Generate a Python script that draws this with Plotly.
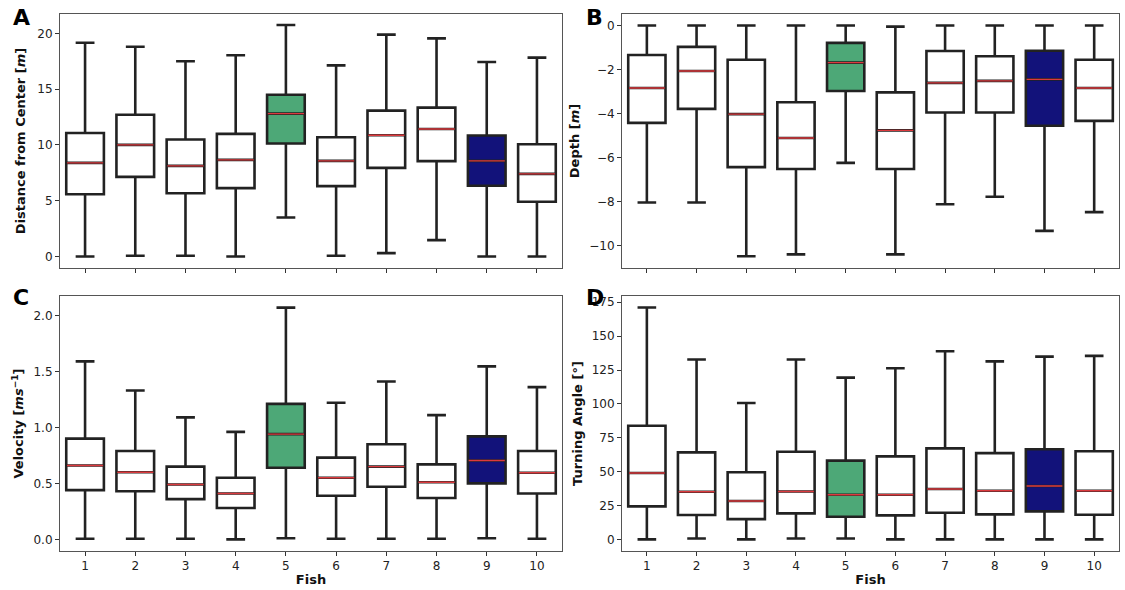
import plotly.graph_objects as go

fish = [1, 2, 3, 4, 5, 6, 7, 8, 9, 10]

# A: distance from centre [m]
dist_low = [0.0, 0.06, 0.06, 0.0, 3.49, 0.06, 0.3, 1.46, 0.0, 0.0]
dist_q1 = [5.58, 7.13, 5.67, 6.12, 10.12, 6.3, 7.94, 8.54, 6.33, 4.9]
dist_med = [8.39, 10.0, 8.12, 8.66, 12.8, 8.57, 10.87, 11.43, 8.57, 7.4]
dist_q3 = [11.07, 12.7, 10.48, 10.99, 14.5, 10.69, 13.07, 13.34, 10.84, 10.06]
dist_high = [19.16, 18.8, 17.5, 18.03, 20.75, 17.13, 19.88, 19.55, 17.43, 17.82]

# B: depth [m]
depth_low = [-8.05, -8.05, -10.5, -10.41, -6.25, -10.41, -8.13, -7.79, -9.34, -8.49]
depth_q1 = [-4.43, -3.79, -6.44, -6.53, -2.98, -6.53, -3.96, -3.96, -4.56, -4.34]
depth_med = [-2.84, -2.07, -4.03, -5.12, -1.69, -4.77, -2.61, -2.52, -2.45, -2.84]
depth_q3 = [-1.34, -0.97, -1.56, -3.49, -0.79, -3.04, -1.16, -1.4, -1.15, -1.56]
depth_high = [0.0, 0.0, 0.0, 0.0, 0.0, -0.05, 0.0, 0.0, 0.0, 0.0]

# C: velocity [m/s]
vel_low = [0.006, 0.006, 0.006, 0.0, 0.01, 0.006, 0.006, 0.006, 0.01, 0.006]
vel_q1 = [0.44, 0.43, 0.36, 0.28, 0.64, 0.39, 0.47, 0.37, 0.50, 0.41]
vel_med = [0.66, 0.60, 0.49, 0.41, 0.94, 0.55, 0.65, 0.51, 0.705, 0.595]
vel_q3 = [0.90, 0.79, 0.65, 0.55, 1.21, 0.73, 0.85, 0.67, 0.92, 0.79]
vel_high = [1.59, 1.33, 1.09, 0.96, 2.07, 1.22, 1.41, 1.11, 1.545, 1.36]

# D: turning angle [deg]
turn_low = [0.0, 0.7, 0.0, 0.7, 0.7, 0.0, 0.0, 0.0, 0.0, 0.0]
turn_q1 = [24.4, 18.0, 15.0, 19.2, 16.7, 17.7, 19.7, 18.5, 20.7, 18.2]
turn_med = [49.0, 35.2, 28.3, 35.4, 33.0, 33.0, 37.2, 35.9, 39.4, 35.9]
turn_q3 = [83.9, 64.2, 49.5, 64.7, 58.1, 61.3, 67.2, 63.7, 66.5, 65.0]
turn_high = [171.1, 132.7, 100.7, 132.7, 119.4, 126.3, 138.8, 131.4, 134.9, 135.4]

fills = {5: "#4da877", 9: "#12127a"}

panels = [
    ("x", "y", dist_low, dist_q1, dist_med, dist_q3, dist_high),
    ("x2", "y2", depth_low, depth_q1, depth_med, depth_q3, depth_high),
    ("x3", "y3", vel_low, vel_q1, vel_med, vel_q3, vel_high),
    ("x4", "y4", turn_low, turn_q1, turn_med, turn_q3, turn_high),
]

fig = go.Figure()

for xa, ya, lo, q1, med, q3, hi in panels:
    for i, f in enumerate(fish):
        fig.add_trace(go.Box(
            x=[f], q1=[q1[i]], median=[med[i]], q3=[q3[i]],
            lowerfence=[lo[i]], upperfence=[hi[i]],
            width=0.75, whiskerwidth=0.5,
            fillcolor=fills.get(f, "white"),
            line=dict(color="#222222", width=2.6),
            xaxis=xa, yaxis=ya, hoverinfo="skip", showlegend=False,
        ))
        # red median line drawn as a flat box
        fig.add_trace(go.Box(
            x=[f], q1=[med[i]], median=[med[i]], q3=[med[i]],
            lowerfence=[med[i]], upperfence=[med[i]],
            width=0.72, whiskerwidth=0,
            fillcolor="rgba(0,0,0,0)",
            line=dict(color="#dc3a3e", width=1.4),
            xaxis=xa, yaxis=ya, hoverinfo="skip", showlegend=False,
        ))

font = dict(family="DejaVu Sans", size=12, color="#222222")
axis_common = dict(
    showline=True, linecolor="#555555", linewidth=1, mirror=True,
    ticks="outside", ticklen=4, tickcolor="#333333",
    showgrid=False, zeroline=False, tickfont=font,
)
xl = [0.0533, 0.4996]
xr = [0.5529, 0.9947]
yt = [0.5458, 0.9763]
yb = [0.0661, 0.4983]
title_font = dict(family="DejaVu Sans", size=13, color="#111111")

fig.update_layout(
    width=1125, height=590,
    margin=dict(l=0, r=0, t=0, b=0),
    plot_bgcolor="white", paper_bgcolor="white",
    boxmode="overlay",
    xaxis=dict(domain=xl, anchor="y", range=[0.5, 10.5], tickvals=fish,
               showticklabels=False, **axis_common),
    yaxis=dict(domain=yt, anchor="x", range=[-1.035, 21.735],
               tickvals=[0, 5, 10, 15, 20],
               title=dict(text="<b>Distance from Center [<i>m</i>]</b>",
                          font=title_font, standoff=8),
               **axis_common),
    xaxis2=dict(domain=xr, anchor="y2", range=[0.5, 10.5], tickvals=fish,
                showticklabels=False, **axis_common),
    yaxis2=dict(domain=yt, anchor="x2", range=[-11.03, 0.525],
                tickvals=[-10, -8, -6, -4, -2, 0],
                title=dict(text="<b>Depth [<i>m</i>]</b>",
                           font=title_font, standoff=6),
                **axis_common),
    xaxis3=dict(domain=xl, anchor="y3", range=[0.5, 10.5], tickvals=fish,
                title=dict(text="<b>Fish</b>", font=title_font, standoff=2),
                **axis_common),
    yaxis3=dict(domain=yb, anchor="x3", range=[-0.1035, 2.1735],
                tickvals=[0, 0.5, 1.0, 1.5, 2.0], tickformat=".1f",
                title=dict(text="<b>Velocity [<i>ms</i><sup>−1</sup>]</b>",
                           font=title_font, standoff=6),
                **axis_common),
    xaxis4=dict(domain=xr, anchor="y4", range=[0.5, 10.5], tickvals=fish,
                title=dict(text="<b>Fish</b>", font=title_font, standoff=2),
                **axis_common),
    yaxis4=dict(domain=yb, anchor="x4", range=[-8.55, 179.6],
                tickvals=[0, 25, 50, 75, 100, 125, 150, 175],
                title=dict(text="<b>Turning Angle [°]</b>",
                           font=title_font, standoff=6),
                **axis_common),
)

letters = [("A", 0.010, 0.995), ("B", 0.519, 0.995),
           ("C", 0.010, 0.520), ("D", 0.519, 0.520)]
for txt, lx, ly in letters:
    fig.add_annotation(text="<b>" + txt + "</b>", x=lx, y=ly,
                       xref="paper", yref="paper", xanchor="left", yanchor="top",
                       showarrow=False,
                       font=dict(family="DejaVu Sans", size=22, color="black"))

# drop the page's default body margin so the figure fills the window
fig.write_html("out.html",
               config={"displayModeBar": False, "staticPlot": True},
               post_script="document.body.style.margin='0';"
                           "document.body.style.overflow='hidden';")
